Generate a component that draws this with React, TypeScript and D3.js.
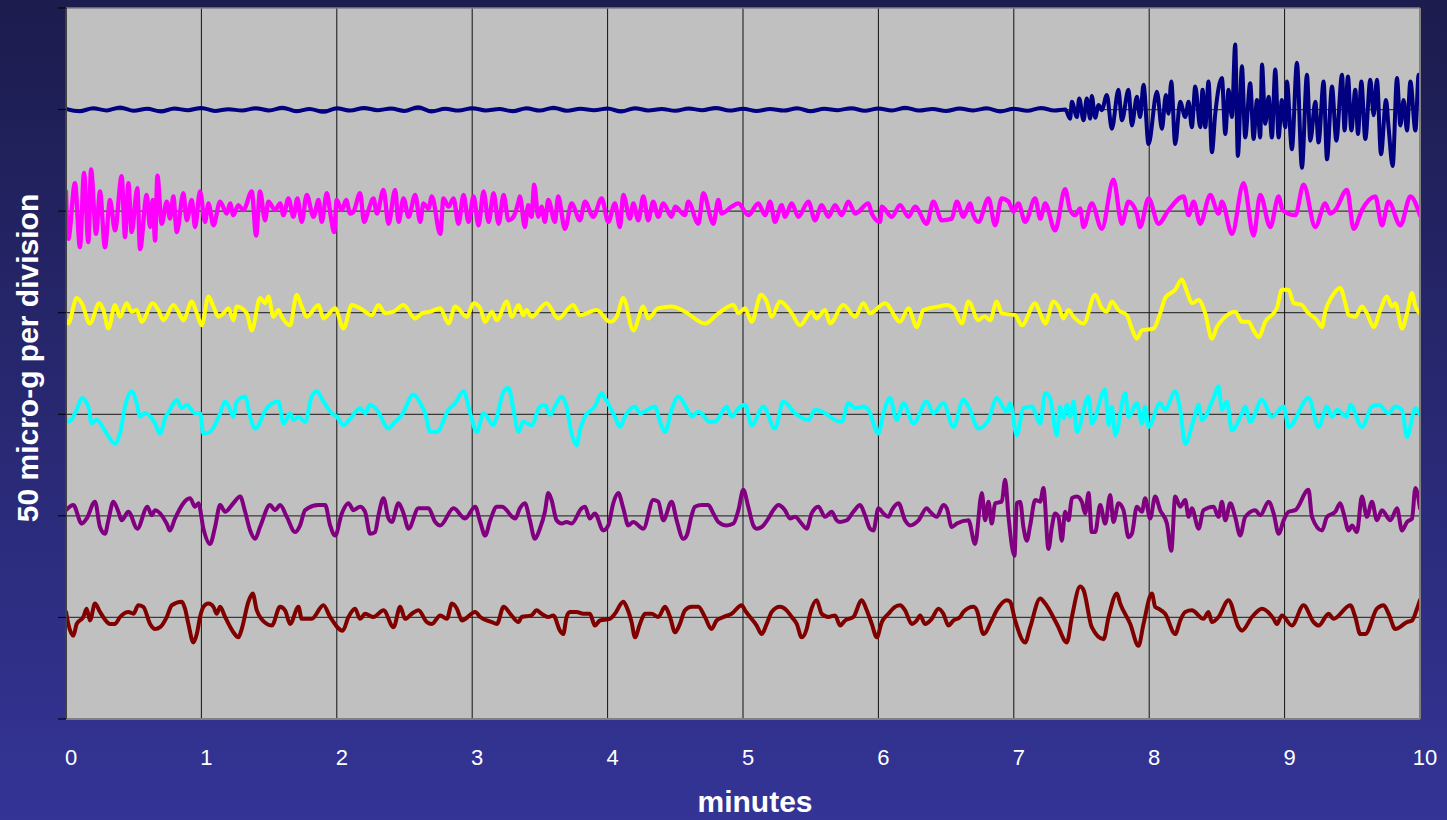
import React from "react";
import * as d3 from "d3";

// x tick labels (minutes)
const minuteTicks = [0, 1, 2, 3, 4, 5, 6, 7, 8, 9, 10];
// trace baselines in micro-g (50 micro-g per division)
const divisions = [0, 50, 100, 150, 200, 250, 300, 350];

type P = [number, number]; // [minute, micro-g deviation]

const navyData: P[] = [
  [0,0.3],[0.1,-0.8],[0.2,0.6],[0.3,-0.4],[0.4,1],[0.5,-0.6],[0.6,0.4],[0.7,-0.9],[0.8,0.5],[0.9,-0.3],
  [1,0.8],[1.1,-0.7],[1.2,0.2],[1.3,-0.5],[1.4,0.7],[1.5,-0.4],[1.6,0.9],[1.7,-0.8],[1.8,0.3],[1.9,-1.1],
  [2,0.6],[2.1,-0.5],[2.2,0.8],[2.3,-0.3],[2.4,0.5],[2.5,-0.7],[2.6,1.1],[2.7,-0.9],[2.8,0.4],[2.9,-0.5],
  [3,0.7],[3.1,-0.4],[3.2,0.3],[3.3,-0.8],[3.4,0.6],[3.5,-0.5],[3.6,0.9],[3.7,-0.6],[3.8,0.4],[3.9,-0.3],
  [4,0.5],[4.1,-0.9],[4.2,0.7],[4.3,-0.4],[4.4,0.3],[4.5,-0.6],[4.6,0.5],[4.7,-0.3],[4.8,0.8],[4.9,-0.5],
  [5,0.4],[5.1,-0.7],[5.2,0.3],[5.3,-0.5],[5.4,0.6],[5.5,-0.8],[5.6,0.4],[5.7,-0.3],[5.8,0.7],[5.9,-0.6],
  [6,0.5],[6.1,-0.4],[6.2,0.9],[6.3,-0.5],[6.4,0.3],[6.5,-0.7],[6.6,0.5],[6.7,-0.4],[6.8,0.6],[6.9,-0.9],
  [7,0.4],[7.1,-0.6],[7.2,0.8],[7.3,-0.5],[7.38,0],
  [7.416,-4.5],[7.429,3.8],[7.466,-3.7],[7.483,5.5],[7.515,-5.3],[7.539,5.5],[7.564,-4.5],[7.576,6.7],
  [7.601,-4],[7.626,2.2],[7.65,-0.3],[7.687,7.2],[7.724,-9.5],[7.773,9.7],[7.798,-5.3],[7.847,9.7],
  [7.872,-7.8],[7.909,6.3],[7.933,-3.7],[7.958,12.2],[7.995,-17],[8.057,8.8],[8.094,-9.5],[8.123,7.2],
  [8.143,-2],[8.163,13.8],[8.192,-17],[8.229,3.8],[8.266,-3.7],[8.291,3.8],[8.315,-8.7],[8.34,11.3],
  [8.377,-8.7],[8.394,9.7],[8.414,-8.7],[8.438,13.8],[8.463,-21],[8.488,-2],[8.537,15.5],[8.562,-12],
  [8.586,9.7],[8.611,-3.7],[8.635,32],[8.655,-22.8],[8.685,21.3],[8.709,-13.7],[8.746,13],[8.771,-14.5],
  [8.796,4.7],[8.82,-13.7],[8.833,22.2],[8.857,-7],[8.882,6.3],[8.906,-13.7],[8.931,19.7],[8.956,-13.7],
  [8.98,4.7],[9.005,-8.7],[9.017,13.8],[9.054,-19.5],[9.091,23],[9.128,-28.7],[9.165,17.2],[9.19,-15.3],
  [9.227,3.8],[9.251,-16.2],[9.288,13.8],[9.313,-24.5],[9.35,11.3],[9.382,-15.3],[9.424,17.2],[9.443,-10.3],
  [9.468,16.3],[9.493,-10.3],[9.522,9.7],[9.542,-12],[9.567,13.8],[9.596,-14.5],[9.633,14.7],[9.658,-2.8],
  [9.682,14.7],[9.712,-22],[9.749,4.7],[9.768,-8.7],[9.798,-27.8],[9.83,15.5],[9.855,-7.8],[9.879,4.7],
  [9.904,-10.3],[9.929,13.8],[9.966,-10.3],[9.99,17.2],[10,6.3],
];

const magentaData: P[] = [
  [0,9.7],[0.017,-13.7],[0.066,13.8],[0.103,-17.8],[0.133,18.8],[0.165,-15.3],[0.185,20.5],[0.222,-11.2],
  [0.251,9.7],[0.288,-17.8],[0.325,5.5],[0.362,-9.5],[0.411,17.2],[0.436,-12.8],[0.461,13.8],[0.485,-10.3],
  [0.527,11.3],[0.547,-18.7],[0.596,8],[0.621,-7.8],[0.64,5.5],[0.658,-14.5],[0.675,17.5],[0.707,-6.2],
  [0.744,4.7],[0.768,-3.7],[0.793,7.2],[0.818,-10.3],[0.867,8.8],[0.892,-4.5],[0.929,5.5],[0.953,-7.8],
  [0.99,9.7],[1.027,-5.3],[1.052,3.8],[1.089,-7],[1.138,4.7],[1.187,-1.2],[1.212,3.8],[1.236,-2],
  [1.273,3],[1.31,0.5],[1.372,9.7],[1.404,-12],[1.433,9.7],[1.47,-4.5],[1.495,4.7],[1.544,0.5],
  [1.581,3.8],[1.606,-2],[1.643,6.3],[1.68,-2.8],[1.709,6.3],[1.741,-5.3],[1.778,8],[1.828,-2.8],
  [1.865,5.5],[1.889,-5.3],[1.926,8.8],[1.956,-2.8],[1.98,-10.3],[2,5.5],[2.037,0.5],[2.069,5.5],
  [2.099,-1.2],[2.123,-0.3],[2.172,8.8],[2.202,-5.3],[2.234,0.5],[2.271,6.3],[2.296,-1.2],[2.345,10.5],
  [2.382,-6.2],[2.431,10.5],[2.456,-5.3],[2.493,6.3],[2.53,-2.8],[2.579,8],[2.616,-5.3],[2.64,3.8],
  [2.677,1.3],[2.702,7.2],[2.764,-11.2],[2.788,6.3],[2.825,2.2],[2.862,6.3],[2.899,-6.2],[2.936,8],
  [2.973,-5.3],[3.01,7.2],[3.047,-7],[3.084,9.7],[3.121,-5.3],[3.158,8.8],[3.195,-6.2],[3.232,8],
  [3.268,-4.5],[3.305,-2.8],[3.342,4.7],
  [3.352,7.2],[3.389,-7.8],[3.414,3],[3.438,-2.8],[3.458,13],[3.488,-2.8],[3.512,2.2],[3.537,-5.3],
  [3.562,5.5],[3.611,-5.3],[3.635,7.2],[3.685,-8.7],[3.734,3.8],[3.796,-4.5],[3.833,4.7],[3.894,-2.8],
  [3.956,6.3],[4.005,-5.3],[4.054,3.8],[4.091,-7.8],[4.116,8],[4.165,-3.7],[4.19,3.8],[4.227,-4.5],
  [4.264,7.2],[4.3,-4.5],[4.337,4.7],[4.374,-2.8],[4.411,3.8],[4.473,-2.8],[4.498,2.2],[4.571,-2],
  [4.596,4.7],[4.67,-6.2],[4.707,8.8],[4.781,-6.2],[4.818,5.5],[4.842,-1.2],[4.916,2.2],[4.966,3.8],
  [5.039,-2],[5.113,3.8],[5.163,-2],[5.2,4.7],[5.236,-5.3],[5.286,3],[5.31,-2.8],[5.36,3.8],
  [5.409,-2.8],[5.483,4.7],[5.532,-4.5],[5.581,3],[5.631,-2.8],[5.68,3],[5.729,-2],[5.778,4.7],
  [5.828,-1.2],[5.926,3.8],[5.951,-1.2],[6.012,-5.3],[6.025,2.2],[6.099,-2.8],[6.16,3],[6.222,-2.8],
  [6.271,2.2],[6.357,-6.2],[6.406,4.7],[6.468,-4.5],[6.542,-3.7],[6.579,4.7],[6.628,-2.8],
  [6.677,3.8],[6.702,-2],[6.739,-5.3],[6.813,6.3],[6.862,-7],[6.911,6.3],[6.961,4.7],[6.998,-0.3],
  [7.034,3.8],[7.084,-5.3],[7.158,6.3],[7.195,-3.7],[7.232,3.8],[7.305,-9.5],[7.379,10.8],[7.416,0.5],
  [7.453,-2],[7.49,1.3],[7.515,-7.8],[7.576,3.8],[7.65,-8.7],[7.736,15.5],[7.798,-6.2],[7.847,4.7],
  [7.909,-1.2],[7.933,-7.8],[7.995,6.3],[8.069,-6.2],[8.143,0.5],[8.254,7.2],[8.291,-2],[8.328,4.7],
  [8.377,-6.2],[8.451,8],[8.512,-1.2],[8.537,4.7],[8.611,-11.2],[8.697,13.8],[8.771,-12],[8.82,8],
  [8.894,-7.8],[8.956,7.2],[8.985,0.5],[9.079,-2],[9.14,13],[9.227,-7.8],[9.3,3.8],[9.337,-1.2],
  [9.374,0.5],[9.461,10.5],[9.51,-8.7],[9.571,0.5],[9.67,7.2],[9.719,-7],[9.768,4.7],[9.855,-7],
  [9.929,7.2],[10,-2],
];

const yellowData: P[] = [
  [0,-3.7],[0.017,-5.3],[0.079,7.2],[0.116,4.7],[0.177,-5.3],[0.246,4.7],[0.276,1.3],[0.313,-7.8],
  [0.362,3.8],[0.399,-2],[0.448,4.7],[0.485,0.5],[0.522,1.3],[0.559,-4.5],[0.64,4.7],[0.682,1.3],
  [0.719,-3.7],[0.793,3.8],[0.83,0.5],[0.867,-3.7],[0.929,5.5],[0.966,-0.3],[1.002,-6.2],[1.052,8],
  [1.089,3],[1.126,-2],[1.163,-0.3],[1.2,2.2],[1.236,-3.7],[1.261,3],[1.335,-0.3],[1.372,-8.7],
  [1.433,7.2],[1.47,4.7],[1.495,8],[1.532,-2],[1.569,1.3],[1.594,-2],[1.655,-6.2],[1.704,8.8],
  [1.741,3],[1.778,-2],[1.865,3.8],[1.901,-2.8],[1.988,2.2],[2.049,-7.8],[2.111,3.8],[2.172,2.2],
  [2.259,-1.2],[2.308,3.8],[2.357,-0.3],[2.419,0.5],[2.493,3.8],[2.579,-2.8],[2.628,-0.3],[2.69,0.5],
  [2.764,2.2],[2.825,-5.3],[2.874,3],[2.961,-2],[3.01,4.7],[3.059,2.2],[3.096,-4.5],[3.145,0.5],
  [3.182,-3.7],[3.256,5.5],[3.293,-2],[3.342,3.8],
  [3.377,-1.2],[3.401,1.3],[3.438,-2],[3.549,4.7],[3.635,-2.8],[3.746,3.8],[3.796,-1.2],[3.919,1.3],
  [4.017,-4.5],[4.067,-2],[4.116,7.2],[4.19,-8.7],[4.264,3],[4.3,-2.8],[4.374,2.2],[4.473,3],
  [4.571,0.5],[4.719,-5.3],[4.818,-0.3],[4.929,3.8],[4.966,-0.3],[5.015,2.2],[5.064,-4.5],[5.133,8.8],
  [5.175,5.5],[5.212,-2],[5.273,5.5],[5.36,-0.3],[5.421,-6.2],[5.507,0.5],[5.544,-2.8],[5.606,1.3],
  [5.643,-5.3],[5.741,3.8],[5.828,-2],[5.889,4.7],[5.938,-0.3],[6.049,4.7],[6.16,-4.5],[6.222,2.2],
  [6.283,-7],[6.333,1.3],[6.443,3],[6.505,3.8],[6.554,2.2],[6.616,-5.3],
  [6.665,5.5],[6.739,-3.7],[6.783,-1.7],[6.825,-3.7],[6.874,5.5],[6.911,-0.3],[7.01,-1.2],[7.059,-6.2],
  [7.158,4.7],[7.195,-0.3],[7.232,-5.3],[7.293,5.5],[7.33,3],[7.367,-2.8],[7.404,1.3],[7.441,-2],
  [7.515,-5.3],[7.601,8.8],[7.65,2.2],[7.687,0.5],[7.724,5.5],[7.773,1.3],[7.835,-1.2],[7.872,-7.8],
  [7.909,-12.8],[7.946,-8.7],[8.032,-7.8],[8.081,-0.3],[8.118,7.2],[8.192,11.3],[8.241,16.3],[8.278,10.5],
  [8.315,4.7],[8.365,6.3],[8.414,-0.3],[8.463,-12.8],[8.5,-7],[8.537,-3.7],[8.574,-1.2],[8.635,0.5],
  [8.685,-4.5],[8.734,-4.5],[8.771,-8.7],[8.808,-12],[8.857,-4.5],[8.943,2.2],[8.98,11.3],[9.03,11.3],
  [9.067,4.7],[9.128,3.8],[9.165,0.5],[9.239,-3.7],[9.276,-7],[9.3,0.5],[9.35,8],[9.411,12.2],
  [9.448,4.7],[9.473,-1.2],[9.522,-2],[9.571,3],[9.608,-0.3],[9.658,-7],[9.707,1.3],[9.756,8],
  [9.793,3],[9.818,4.7],[9.867,-7.8],[9.904,-0.3],[9.941,9.7],[9.966,3],[10,-0.3],
];

const cyanData: P[] = [
  [0,-2],[0.017,-3.7],[0.079,2.2],[0.116,8],[0.165,3.8],[0.19,-4.5],[0.227,-2.8],[0.3,-9.5],
  [0.362,-14.5],[0.399,-9.5],[0.436,3.8],[0.485,11.3],[0.522,5.5],[0.547,-1.2],[0.584,0.5],[0.658,-4.5],
  [0.695,-9.5],[0.732,-2],[0.768,2.2],[0.818,7.2],[0.855,3],[0.892,4.7],[0.953,0.5],[0.99,0.5],
  [1.015,-9.5],[1.064,-8.7],[1.138,0.5],[1.175,6.3],[1.212,2.2],[1.236,-1.2],[1.261,6.3],[1.323,8.8],
  [1.36,-1.2],[1.397,-7],[1.483,3],[1.569,6.3],[1.606,-4.5],[1.655,0.5],[1.68,-2.8],[1.717,-1.2],
  [1.766,-3.7],[1.815,8.8],[1.852,11.3],[1.901,6.3],[1.963,0.5],[2,-1.2],[2.049,-5.3],[2.111,-1.2],
  [2.172,3],[2.209,0.5],[2.246,4.7],[2.296,2.2],[2.382,-7],[2.419,-4.5],[2.48,-0.3],[2.567,9.7],
  [2.616,5.5],[2.653,0.5],[2.69,-8.7],[2.739,-8.7],[2.825,2.2],[2.874,5.5],[2.936,11.3],[2.985,0.5],
  [3.034,-8.7],[3.084,0.5],[3.158,-5.3],[3.182,-1.2],[3.232,11.3],[3.268,13],[3.305,2.2],[3.342,-8.7],
  [3.377,-3.7],[3.438,-5.3],[3.5,3.8],[3.537,4.7],[3.574,-0.3],[3.611,3.8],[3.66,8.8],[3.697,3.8],
  [3.734,-9.5],[3.771,-15.3],[3.796,-7.8],[3.833,-1.2],[3.906,3.8],[3.956,10.5],[3.98,8],[4.054,-1.2],
  [4.091,-6.2],[4.128,-1.2],[4.202,3.8],[4.239,0.5],[4.35,3.8],[4.387,-3.7],[4.424,-8.7],[4.473,2.2],
  [4.522,8.8],[4.584,3],[4.621,-1.2],[4.67,1.3],[4.756,-3.7],[4.793,-3.7],[4.879,3.8],[4.916,-1.2],
  [4.966,3],[5.015,4.7],[5.064,-5.3],[5.15,3.8],[5.236,-7],[5.298,6.3],[5.384,0.5],[5.483,-2.8],
  [5.532,2.2],[5.606,0.5],[5.68,-2.8],[5.729,-3.7],[5.778,5.5],[5.828,3],[5.889,3.8],[5.926,2.2],
  [6,-9.5],[6.037,0.5],[6.086,8],[6.135,-2.8],[6.185,5.5],[6.259,-4.5],[6.357,6.3],[6.406,0.5],
  [6.48,5.5],[6.554,-6.2],[6.628,7.2],
  [6.665,3.8],[6.739,-7],[6.813,-2.8],[6.874,8],[6.948,1.3],[6.973,5.5],[7.022,-10.3],[7.071,3],
  [7.133,3.8],[7.195,-4.5],[7.232,10.5],[7.268,8],[7.318,-10.3],[7.342,3.8],[7.367,-2],[7.392,4.7],
  [7.416,-1.2],[7.441,6.3],[7.466,-8.7],[7.552,8.8],[7.576,-4.5],[7.675,12.2],[7.7,-5.3],[7.724,3.8],
  [7.749,-10.3],[7.823,10.5],[7.847,-1.2],[7.909,5.5],[7.946,-4.5],[7.97,3.8],[7.995,-6.2],[8.081,5.5],
  [8.118,2.2],[8.192,11.3],[8.229,2.2],[8.266,-14.5],[8.328,-2.8],[8.365,4.7],[8.389,-2.8],[8.475,8],
  [8.512,13.8],[8.537,2.2],[8.574,6.3],[8.611,-7.8],[8.685,0.5],[8.709,3.8],[8.746,-3.7],[8.833,7.2],
  [8.906,-1.2],[8.993,3.8],[9.03,-6.2],[9.177,8],[9.251,-6.2],[9.313,3.8],[9.35,-1.2],[9.387,2.2],
  [9.46,-1.2],[9.485,4.7],[9.571,-6.2],[9.645,3.8],[9.695,4.7],[9.768,0.5],[9.818,3.8],[9.867,2.2],
  [9.904,-11.2],[9.966,3],[10,-0.3],
];

const purpleData: P[] = [
  [0,2.8],[0.054,5.3],[0.116,-3.8],[0.153,-1.3],[0.214,7],[0.251,-5.5],[0.288,-8.8],[0.313,-2.2],
  [0.35,7],[0.387,2],[0.411,-2.2],[0.461,2],[0.527,-6.3],[0.601,4.5],[0.633,0.3],[0.658,2.8],
  [0.744,-3.8],[0.768,-7.2],[0.805,-1.3],[0.916,8.7],[0.953,4.5],[0.978,6.2],[1.015,-6.3],[1.064,-13.8],
  [1.101,-5.5],[1.138,5.3],[1.175,2],[1.236,6.2],[1.286,9.5],[1.323,2],[1.36,-7.2],[1.397,-11.3],
  [1.433,-5.5],[1.507,5.3],[1.544,2.8],[1.581,5.3],[1.631,-0.5],[1.692,-8],[1.729,-4.7],[1.766,2.8],
  [1.865,5.3],[1.914,5.3],[1.951,-4.7],[1.988,-9.7],[2.037,1.2],[2.086,6.2],[2.123,2.8],[2.172,4.5],
  [2.209,2],[2.246,-8.8],[2.283,-8],[2.308,0.3],[2.345,8.7],[2.382,-1.3],[2.406,-3],[2.456,6.2],
  [2.493,1.2],[2.53,-6.3],[2.603,3.7],[2.677,3.7],[2.727,-3],[2.764,-4.7],[2.862,3.7],[2.948,-1.3],
  [3.022,4.5],[3.059,-3],[3.096,-9.7],[3.133,-2.2],[3.182,4.5],[3.219,4.5],[3.318,-1.3],
  [3.352,3.7],[3.389,6.2],[3.426,-2.2],[3.463,-11.3],[3.5,-6.3],[3.537,2],[3.562,11.2],[3.586,7.8],
  [3.623,-2.2],[3.66,-3.8],[3.697,-3],[3.734,-3.8],[3.808,3.7],[3.833,4.5],[3.869,-1.3],[3.906,1.2],
  [3.968,-7.2],[4.005,-4.7],[4.042,6.2],[4.079,11.2],[4.116,3.7],[4.153,-4.7],[4.19,-3],[4.264,-6.3],
  [4.337,7.8],[4.374,7],[4.411,-2.2],[4.473,7],[4.51,-2.2],[4.559,-11.3],[4.584,-9.7],[4.621,0.3],
  [4.645,4.5],[4.695,5.3],[4.744,5.3],[4.781,1.2],[4.818,-3],[4.879,-4.7],[4.929,-3.8],[4.966,2.8],
  [5.002,12.8],[5.039,4.5],[5.076,-4.7],[5.1,-6.3],[5.138,-5.5],[5.187,-1.3],[5.224,2.8],[5.261,5.3],
  [5.31,2.8],[5.347,-1.3],[5.384,-0.5],[5.433,-3.8],[5.47,-6.3],[5.507,1.2],[5.557,4.5],[5.606,-0.5],
  [5.655,2],[5.692,-2.2],[5.717,-3],[5.766,-2.2],[5.815,2],[5.865,5.3],[5.901,0.3],[5.938,-6.3],
  [5.963,-7.2],[6,3.7],[6.037,1.2],[6.074,-0.5],[6.099,2.8],[6.148,6.2],[6.197,-2.2],[6.234,-4.7],
  [6.296,-2.2],[6.357,3.7],[6.382,2],[6.431,-0.5],[6.48,5.3],[6.505,3.7],[6.542,-5.5],[6.579,-3.8],
  [6.665,-2.2],[6.714,-13.8],[6.764,11.2],[6.788,-2.2],[6.813,7],[6.837,-3.8],[6.862,6.2],[6.911,7],
  [6.936,17.8],[6.961,-0.5],[7.005,-19.7],[7.022,6.2],[7.047,7],[7.071,-5.5],[7.096,-12.2],[7.121,-4.7],
  [7.158,7.8],[7.195,7],[7.219,13.7],[7.256,-16.3],[7.281,-5.5],[7.305,1.2],[7.33,-0.5],[7.355,-12.2],
  [7.379,2],[7.404,-2.2],[7.429,8.7],[7.466,9.5],[7.502,7],[7.527,1.2],[7.552,11.2],[7.576,-8],
  [7.601,-8],[7.638,5.3],[7.675,-3.8],[7.712,10.3],[7.736,-3],[7.773,6.2],[7.81,2.8],[7.847,-10.5],
  [7.872,-8.8],[7.909,4.5],[7.946,2],[7.97,8.7],[8.007,-1.3],[8.044,9.5],[8.081,2.8],[8.131,-3.8],
  [8.163,-17.2],[8.192,9.5],[8.229,4.5],[8.266,7.8],[8.291,-0.5],[8.315,3.7],[8.365,-6.3],[8.401,2.8],
  [8.475,4.5],[8.512,-0.5],[8.537,7],[8.562,-2.2],[8.599,6.2],[8.635,-0.5],[8.672,-9.7],[8.709,-0.5],
  [8.783,2.8],[8.82,0.3],[8.882,7],[8.919,1.2],[8.956,-8.8],[8.993,-2.2],[9.03,2],[9.079,2.8],
  [9.177,12.8],[9.202,-0.5],[9.276,-7.2],[9.313,-0.5],[9.374,2],[9.411,6.2],[9.436,1.2],[9.473,-7.2],
  [9.498,-4.7],[9.534,-8],[9.571,9.5],[9.608,-0.5],[9.645,7],[9.682,-2.2],[9.719,2.8],[9.781,-2.2],
  [9.83,3.7],[9.867,-7.2],[9.904,-3],[9.941,-1.3],[9.966,13.7],[10,3.7],
];

const darkRedData: P[] = [
  [0,2.7],[0.017,-3.2],[0.054,-9],[0.079,-3.2],[0.128,0.2],[0.153,4.3],[0.177,-1.5],[0.214,6.8],
  [0.251,2.7],[0.325,-3.2],[0.362,-3.2],[0.399,0.2],[0.461,2.7],[0.498,1.8],[0.534,6],[0.571,5.2],
  [0.621,-3.2],[0.658,-5.7],[0.695,-4.8],[0.744,0.2],[0.781,6],[0.855,7.7],[0.879,4.3],[0.904,-3.2],
  [0.941,-12.3],[0.966,-8.2],[0.99,0.2],[1.015,5.2],[1.052,6.8],[1.089,5.2],[1.113,1.8],[1.138,5.2],
  [1.175,0.2],[1.236,-7.3],[1.273,-9.8],[1.298,-5.7],[1.347,7.7],[1.379,11.8],[1.409,3.5],[1.483,-3.2],
  [1.52,-4],[1.581,5.2],[1.618,3.5],[1.655,-3.2],[1.717,5.2],[1.741,-0.7],[1.815,-0.7],[1.901,6],
  [1.951,0.2],[2.044,-6.5],[2.086,0.2],[2.135,4.3],[2.172,-0.7],[2.209,1.8],[2.271,0.2],[2.345,3.5],
  [2.419,-4.8],[2.468,5.2],[2.505,-0.7],[2.554,1.8],[2.603,3.5],[2.665,-2.3],[2.702,-3.2],[2.764,1],
  [2.813,-0.7],[2.85,6.8],[2.887,4.3],[2.924,-1.5],[3.022,2.7],[3.059,0.2],[3.145,-2.3],[3.182,-3.2],
  [3.232,5.2],[3.281,1.8],[3.342,-2.3],
  [3.365,0.2],[3.438,1],[3.475,3.5],[3.512,1.8],[3.562,0.2],[3.599,1],[3.648,-6.5],[3.672,-8.2],
  [3.697,0.2],[3.722,2.7],[3.771,2.7],[3.82,1.8],[3.869,1.8],[3.906,-4],[3.943,-1.5],[4.017,-0.7],
  [4.054,1.8],[4.116,7.7],[4.14,5.2],[4.177,-2.3],[4.202,-9.8],[4.239,-3.2],[4.276,1.8],[4.325,1.8],
  [4.374,0.2],[4.424,5.2],[4.461,0.2],[4.498,-7.3],[4.534,-3.2],[4.571,3.5],[4.621,5.2],[4.67,5.2],
  [4.719,0.2],[4.768,-5.7],[4.805,-1.5],[4.855,0.2],[4.916,1.8],[4.99,6],[5.015,3.5],[5.052,0.2],
  [5.101,-4],[5.138,-8.2],[5.175,-3.2],[5.212,2.7],[5.273,5.2],[5.322,3.5],[5.36,0.2],[5.397,-3.2],
  [5.433,-9.8],[5.47,-5.7],[5.495,1.8],[5.544,8.5],[5.581,1.8],[5.631,0.2],[5.68,1],[5.717,-4],
  [5.754,-1.5],[5.815,0.2],[5.877,8.5],[5.914,3.5],[5.951,-3.2],[5.988,-9.8],[6.025,-2.3],[6.074,1.8],
  [6.123,5.2],[6.16,6],[6.197,3.5],[6.246,-3.2],[6.283,-1.5],[6.308,1],[6.345,-3.2],[6.394,-0.7],
  [6.443,4.3],[6.48,1.8],[6.517,-4],[6.554,-1.5],[6.603,0.2],[6.628,2.7],
  [6.702,5.2],[6.727,3.5],[6.776,-8.2],[6.837,-1.5],[6.874,3.5],[6.948,8.5],[6.973,7.7],[7.01,-1.5],
  [7.084,-12.3],[7.121,-4.8],[7.195,9.3],[7.232,6.8],[7.318,-3.2],[7.392,-12.3],[7.429,0.2],[7.49,15.2],
  [7.515,13.5],[7.576,-4.8],[7.663,-10.7],[7.7,0.2],[7.761,11.8],[7.786,6.8],[7.86,-3.2],[7.921,-14],
  [7.958,-3.2],[8.02,11.8],[8.044,5.2],[8.069,4.3],[8.118,1.8],[8.192,-8.2],[8.229,-1.5],[8.266,2.7],
  [8.315,3.5],[8.401,-0.7],[8.438,2.7],[8.463,-2.3],[8.512,0.2],[8.586,8.5],[8.66,-4.8],[8.685,-6.5],
  [8.759,0.2],[8.833,4.3],[8.919,-0.7],[8.943,-3.2],[8.98,1],[9.054,-4],[9.14,6],[9.214,-2.3],
  [9.251,-4],[9.325,1.8],[9.362,-0.7],[9.485,6],[9.522,0.2],[9.559,-8.2],[9.596,-8.2],[9.682,4.3],
  [9.732,6],[9.768,1.8],[9.818,-5.7],[9.904,-2.3],[9.941,-1.5],[9.978,4.3],[10,8.5],
];

const traces = [
  { name: "navy", base: 300, color: "#000080", width: 4, data: navyData },
  { name: "magenta", base: 250, color: "#FF00FF", width: 4.3, data: magentaData },
  { name: "yellow", base: 200, color: "#FFFF00", width: 4, data: yellowData },
  { name: "cyan", base: 150, color: "#00FFFF", width: 4, data: cyanData },
  { name: "purple", base: 100, color: "#800080", width: 4, data: purpleData },
  { name: "darkred", base: 50, color: "#800000", width: 4, data: darkRedData },
];

const W = 1447;
const H = 820;
const PL = 66, PR = 1420, PT = 8, PB = 719;

export default function App() {
  const x = d3.scaleLinear().domain([0, 10]).range([PL, PR]);
  const y = d3.scaleLinear().domain([0, 350]).range([PB, PT]);

  const mkLine = (base: number) =>
    d3
      .line<P>()
      .x((d) => x(d[0]))
      .y((d) => y(base + d[1]))
      .curve(d3.curveMonotoneX);

  return (
    <svg
      width={W}
      height={H}
      style={{ position: "absolute", left: 0, top: 0, display: "block" }}
      fontFamily="'Liberation Sans', Arial, sans-serif"
    >
      <defs>
        <linearGradient id="bg" x1="0" y1="0" x2="0" y2="1">
          <stop offset="0%" stopColor="#1c1c4e" />
          <stop offset="100%" stopColor="#343496" />
        </linearGradient>
        <clipPath id="plotClip">
          <rect x={PL} y={PT} width={PR - PL} height={PB - PT} />
        </clipPath>
      </defs>
      <rect x={0} y={0} width={W} height={H} fill="url(#bg)" />
      <rect x={PL} y={PT} width={PR - PL} height={PB - PT} fill="#C0C0C0" />

      {/* horizontal gridlines */}
      {divisions.slice(1, -1).map((v) => (
        <line key={"h" + v} x1={PL} x2={PR} y1={y(v)} y2={y(v)} stroke="#3a3a3a" strokeWidth={1.2} />
      ))}
      {/* vertical gridlines */}
      {minuteTicks.slice(1, -1).map((m) => (
        <line key={"v" + m} x1={x(m)} x2={x(m)} y1={PT} y2={PB} stroke="#111" strokeWidth={1} />
      ))}

      {/* traces */}
      <g clipPath="url(#plotClip)">
        {traces.map((t) => (
          <path
            key={t.name}
            d={mkLine(t.base)(t.data) || ""}
            fill="none"
            stroke={t.color}
            strokeWidth={t.width}
            strokeLinejoin="round"
            strokeLinecap="round"
          />
        ))}
      </g>

      {/* plot frame */}
      <line x1={PL} x2={PR} y1={PT} y2={PT} stroke="#808080" strokeWidth={1.5} />
      <line x1={PR} x2={PR} y1={PT} y2={PB} stroke="#808080" strokeWidth={2} />
      <line x1={PL} x2={PR} y1={PB} y2={PB} stroke="#808080" strokeWidth={2} />
      <line x1={PL} x2={PL} y1={PT} y2={PB} stroke="#404040" strokeWidth={2} />

      {/* y ticks */}
      {divisions.map((v) => (
        <line key={"yt" + v} x1={PL - 8} x2={PL} y1={y(v)} y2={y(v)} stroke="#000" strokeWidth={1} />
      ))}

      {/* x tick labels */}
      {minuteTicks.map((m) => (
        <text key={"xl" + m} x={x(m) + 5} y={765} fill="#fff" fontSize={22} textAnchor="middle">
          {m}
        </text>
      ))}

      {/* axis titles */}
      <text x={755} y={812} fill="#fff" fontSize={30} fontWeight="bold" textAnchor="middle">
        minutes
      </text>
      <text
        transform={`translate(38, ${358}) rotate(-90)`}
        fill="#fff"
        fontSize={30}
        fontWeight="bold"
        textAnchor="middle"
      >
        50 micro-g per division
      </text>
    </svg>
  );
}
